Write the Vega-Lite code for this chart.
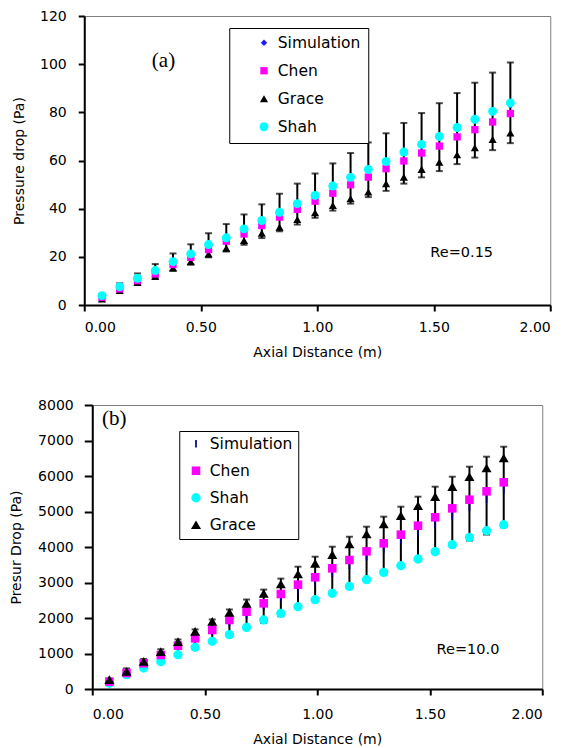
{
"$schema": "https://vega.github.io/schema/vega-lite/v6.json",
"padding": {"left": 9, "top": 8, "right": 5, "bottom": 5},
"spacing": 37,
"center": true,
"background": "white",
"config": {
  "view": {"stroke": "#808080", "strokeWidth": 1},
  "axis": {"domainColor": "black", "domainWidth": 2, "tickColor": "black", "tickWidth": 2, "grid": false, "labelOverlap": false,
    "labelFont": "DejaVu Sans", "labelFontSize": 14, "labelColor": "black",
    "titleFont": "DejaVu Sans", "titleFontSize": 14, "titleFontWeight": "normal", "titleColor": "black"},
  "text": {"color": "black"}
},
"datasets": {
"a_err": [
{"x":0.0762,"lo":3.0,"hi":4.6},{"x":0.1524,"lo":6.0,"hi":9.0},{"x":0.2286,"lo":8.7,"hi":13.1},{"x":0.3048,"lo":11.4,"hi":17.0},
{"x":0.381,"lo":14.2,"hi":21.4},{"x":0.4572,"lo":16.8,"hi":25.2},{"x":0.5334,"lo":19.8,"hi":29.8},{"x":0.6096,"lo":22.2,"hi":33.6},
{"x":0.6858,"lo":25.0,"hi":37.6},{"x":0.762,"lo":27.8,"hi":41.8},{"x":0.8382,"lo":30.6,"hi":46.2},{"x":0.9144,"lo":33.4,"hi":50.4},
{"x":0.9906,"lo":36.2,"hi":54.6},{"x":1.0668,"lo":39.2,"hi":58.8},{"x":1.143,"lo":42.1,"hi":63.1},{"x":1.2192,"lo":44.8,"hi":67.5},
{"x":1.2954,"lo":47.4,"hi":71.3},{"x":1.3716,"lo":50.4,"hi":75.6},{"x":1.4478,"lo":53.0,"hi":79.7},{"x":1.524,"lo":55.6,"hi":83.8},
{"x":1.6002,"lo":58.5,"hi":88.0},{"x":1.6764,"lo":61.2,"hi":92.3},{"x":1.7526,"lo":64.3,"hi":96.5},{"x":1.8288,"lo":67.2,"hi":100.7}
],
"a_pts": [
{"x":0.0762,"y":2.5,"s":"Grace"},{"x":0.1524,"y":6.0,"s":"Grace"},{"x":0.2286,"y":9.4,"s":"Grace"},{"x":0.3048,"y":11.9,"s":"Grace"},
{"x":0.381,"y":15.4,"s":"Grace"},{"x":0.4572,"y":18.0,"s":"Grace"},{"x":0.5334,"y":21.2,"s":"Grace"},{"x":0.6096,"y":23.6,"s":"Grace"},
{"x":0.6858,"y":26.8,"s":"Grace"},{"x":0.762,"y":29.8,"s":"Grace"},{"x":0.8382,"y":32.3,"s":"Grace"},{"x":0.9144,"y":35.5,"s":"Grace"},
{"x":0.9906,"y":38.3,"s":"Grace"},{"x":1.0668,"y":41.3,"s":"Grace"},{"x":1.143,"y":44.1,"s":"Grace"},{"x":1.2192,"y":46.9,"s":"Grace"},
{"x":1.2954,"y":50.4,"s":"Grace"},{"x":1.3716,"y":53.1,"s":"Grace"},{"x":1.4478,"y":56.3,"s":"Grace"},{"x":1.524,"y":59.3,"s":"Grace"},
{"x":1.6002,"y":62.4,"s":"Grace"},{"x":1.6764,"y":65.3,"s":"Grace"},{"x":1.7526,"y":68.7,"s":"Grace"},{"x":1.8288,"y":71.4,"s":"Grace"},
{"x":0.0762,"y":3.2,"s":"Chen"},{"x":0.1524,"y":6.7,"s":"Chen"},{"x":0.2286,"y":10.1,"s":"Chen"},{"x":0.3048,"y":12.9,"s":"Chen"},
{"x":0.381,"y":16.8,"s":"Chen"},{"x":0.4572,"y":19.8,"s":"Chen"},{"x":0.5334,"y":23.0,"s":"Chen"},{"x":0.6096,"y":26.5,"s":"Chen"},
{"x":0.6858,"y":29.5,"s":"Chen"},{"x":0.762,"y":33.0,"s":"Chen"},{"x":0.8382,"y":36.5,"s":"Chen"},{"x":0.9144,"y":39.7,"s":"Chen"},
{"x":0.9906,"y":43.1,"s":"Chen"},{"x":1.0668,"y":46.4,"s":"Chen"},{"x":1.143,"y":49.9,"s":"Chen"},{"x":1.2192,"y":53.1,"s":"Chen"},
{"x":1.2954,"y":56.6,"s":"Chen"},{"x":1.3716,"y":59.8,"s":"Chen"},{"x":1.4478,"y":63.1,"s":"Chen"},{"x":1.524,"y":66.0,"s":"Chen"},
{"x":1.6002,"y":69.8,"s":"Chen"},{"x":1.6764,"y":72.8,"s":"Chen"},{"x":1.7526,"y":76.0,"s":"Chen"},{"x":1.8288,"y":79.5,"s":"Chen"},
{"x":0.0762,"y":3.7,"s":"Simulation"},{"x":0.1524,"y":7.4,"s":"Simulation"},{"x":0.2286,"y":10.9,"s":"Simulation"},{"x":0.3048,"y":14.1,"s":"Simulation"},
{"x":0.381,"y":17.8,"s":"Simulation"},{"x":0.4572,"y":21.0,"s":"Simulation"},{"x":0.5334,"y":24.8,"s":"Simulation"},{"x":0.6096,"y":27.7,"s":"Simulation"},
{"x":0.6858,"y":31.3,"s":"Simulation"},{"x":0.762,"y":34.8,"s":"Simulation"},{"x":0.8382,"y":38.2,"s":"Simulation"},{"x":0.9144,"y":41.7,"s":"Simulation"},
{"x":0.9906,"y":45.2,"s":"Simulation"},{"x":1.0668,"y":49.0,"s":"Simulation"},{"x":1.143,"y":52.5,"s":"Simulation"},{"x":1.2192,"y":55.8,"s":"Simulation"},
{"x":1.2954,"y":59.1,"s":"Simulation"},{"x":1.3716,"y":63.0,"s":"Simulation"},{"x":1.4478,"y":66.1,"s":"Simulation"},{"x":1.524,"y":69.4,"s":"Simulation"},
{"x":1.6002,"y":73.0,"s":"Simulation"},{"x":1.6764,"y":76.4,"s":"Simulation"},{"x":1.7526,"y":79.7,"s":"Simulation"},{"x":1.8288,"y":82.9,"s":"Simulation"},
{"x":0.0762,"y":3.9,"s":"Shah"},{"x":0.1524,"y":7.6,"s":"Shah"},{"x":0.2286,"y":11.1,"s":"Shah"},{"x":0.3048,"y":14.3,"s":"Shah"},
{"x":0.381,"y":18.0,"s":"Shah"},{"x":0.4572,"y":21.2,"s":"Shah"},{"x":0.5334,"y":25.1,"s":"Shah"},{"x":0.6096,"y":27.9,"s":"Shah"},
{"x":0.6858,"y":31.6,"s":"Shah"},{"x":0.762,"y":35.1,"s":"Shah"},{"x":0.8382,"y":38.5,"s":"Shah"},{"x":0.9144,"y":42.1,"s":"Shah"},
{"x":0.9906,"y":45.5,"s":"Shah"},{"x":1.0668,"y":49.4,"s":"Shah"},{"x":1.143,"y":53.0,"s":"Shah"},{"x":1.2192,"y":56.3,"s":"Shah"},
{"x":1.2954,"y":59.6,"s":"Shah"},{"x":1.3716,"y":63.5,"s":"Shah"},{"x":1.4478,"y":66.7,"s":"Shah"},{"x":1.524,"y":70.0,"s":"Shah"},
{"x":1.6002,"y":73.7,"s":"Shah"},{"x":1.6764,"y":77.1,"s":"Shah"},{"x":1.7526,"y":80.4,"s":"Shah"},{"x":1.8288,"y":83.9,"s":"Shah"}
],
"b_err": [
{"x":0.0762,"lo":190,"hi":290},{"x":0.1524,"lo":385,"hi":580},{"x":0.2286,"lo":560,"hi":845},{"x":0.3048,"lo":745,"hi":1120},
{"x":0.381,"lo":930,"hi":1395},{"x":0.4572,"lo":1120,"hi":1680},{"x":0.5334,"lo":1300,"hi":1960},{"x":0.6096,"lo":1490,"hi":2240},
{"x":0.6858,"lo":1670,"hi":2520},{"x":0.762,"lo":1860,"hi":2800},{"x":0.8382,"lo":2050,"hi":3110},{"x":0.9144,"lo":2270,"hi":3445},
{"x":0.9906,"lo":2490,"hi":3727},{"x":1.0668,"lo":2676,"hi":4008},{"x":1.143,"lo":2836,"hi":4290},{"x":1.2192,"lo":3070,"hi":4572},
{"x":1.2954,"lo":3258,"hi":4854},{"x":1.3716,"lo":3493,"hi":5135},{"x":1.4478,"lo":3660,"hi":5417},{"x":1.524,"lo":3840,"hi":5699},
{"x":1.6002,"lo":4020,"hi":5980},{"x":1.6764,"lo":4180,"hi":6262},{"x":1.7526,"lo":4350,"hi":6544},{"x":1.8288,"lo":4554,"hi":6825}
],
"b_pts": [
{"x":0.0762,"y":240,"s":"Simulation"},{"x":0.1524,"y":480,"s":"Simulation"},{"x":0.2286,"y":700,"s":"Simulation"},{"x":0.3048,"y":930,"s":"Simulation"},
{"x":0.381,"y":1160,"s":"Simulation"},{"x":0.4572,"y":1400,"s":"Simulation"},{"x":0.5334,"y":1630,"s":"Simulation"},{"x":0.6096,"y":1860,"s":"Simulation"},
{"x":0.6858,"y":2090,"s":"Simulation"},{"x":0.762,"y":2330,"s":"Simulation"},{"x":0.8382,"y":2560,"s":"Simulation"},{"x":0.9144,"y":2790,"s":"Simulation"},
{"x":0.9906,"y":3020,"s":"Simulation"},{"x":1.0668,"y":3260,"s":"Simulation"},{"x":1.143,"y":3490,"s":"Simulation"},{"x":1.2192,"y":3720,"s":"Simulation"},
{"x":1.2954,"y":3950,"s":"Simulation"},{"x":1.3716,"y":4190,"s":"Simulation"},{"x":1.4478,"y":4420,"s":"Simulation"},{"x":1.524,"y":4650,"s":"Simulation"},
{"x":1.6002,"y":4880,"s":"Simulation"},{"x":1.6764,"y":5120,"s":"Simulation"},{"x":1.7526,"y":5350,"s":"Simulation"},{"x":1.8288,"y":5620,"s":"Simulation"},
{"x":0.0762,"y":160,"s":"Shah"},{"x":0.1524,"y":404,"s":"Shah"},{"x":0.2286,"y":592,"s":"Shah"},{"x":0.3048,"y":770,"s":"Shah"},
{"x":0.381,"y":967,"s":"Shah"},{"x":0.4572,"y":1174,"s":"Shah"},{"x":0.5334,"y":1343,"s":"Shah"},{"x":0.6096,"y":1531,"s":"Shah"},
{"x":0.6858,"y":1737,"s":"Shah"},{"x":0.762,"y":1944,"s":"Shah"},{"x":0.8382,"y":2131,"s":"Shah"},{"x":0.9144,"y":2319,"s":"Shah"},
{"x":0.9906,"y":2516,"s":"Shah"},{"x":1.0668,"y":2695,"s":"Shah"},{"x":1.143,"y":2892,"s":"Shah"},{"x":1.2192,"y":3080,"s":"Shah"},
{"x":1.2954,"y":3286,"s":"Shah"},{"x":1.3716,"y":3474,"s":"Shah"},{"x":1.4478,"y":3662,"s":"Shah"},{"x":1.524,"y":3869,"s":"Shah"},
{"x":1.6002,"y":4066,"s":"Shah"},{"x":1.6764,"y":4272,"s":"Shah"},{"x":1.7526,"y":4460,"s":"Shah"},{"x":1.8288,"y":4629,"s":"Shah"},
{"x":0.0762,"y":207,"s":"Chen"},{"x":0.1524,"y":451,"s":"Chen"},{"x":0.2286,"y":723,"s":"Chen"},{"x":0.3048,"y":958,"s":"Chen"},
{"x":0.381,"y":1221,"s":"Chen"},{"x":0.4572,"y":1427,"s":"Chen"},{"x":0.5334,"y":1662,"s":"Chen"},{"x":0.6096,"y":1944,"s":"Chen"},
{"x":0.6858,"y":2178,"s":"Chen"},{"x":0.762,"y":2413,"s":"Chen"},{"x":0.8382,"y":2676,"s":"Chen"},{"x":0.9144,"y":2939,"s":"Chen"},
{"x":0.9906,"y":3146,"s":"Chen"},{"x":1.0668,"y":3399,"s":"Chen"},{"x":1.143,"y":3634,"s":"Chen"},{"x":1.2192,"y":3878,"s":"Chen"},
{"x":1.2954,"y":4103,"s":"Chen"},{"x":1.3716,"y":4347,"s":"Chen"},{"x":1.4478,"y":4601,"s":"Chen"},{"x":1.524,"y":4836,"s":"Chen"},
{"x":1.6002,"y":5089,"s":"Chen"},{"x":1.6764,"y":5333,"s":"Chen"},{"x":1.7526,"y":5568,"s":"Chen"},{"x":1.8288,"y":5822,"s":"Chen"},
{"x":0.0762,"y":263,"s":"Grace"},{"x":0.1524,"y":498,"s":"Grace"},{"x":0.2286,"y":779,"s":"Grace"},{"x":0.3048,"y":1052,"s":"Grace"},
{"x":0.381,"y":1333,"s":"Grace"},{"x":0.4572,"y":1624,"s":"Grace"},{"x":0.5334,"y":1906,"s":"Grace"},{"x":0.6096,"y":2160,"s":"Grace"},
{"x":0.6858,"y":2413,"s":"Grace"},{"x":0.762,"y":2695,"s":"Grace"},{"x":0.8382,"y":2958,"s":"Grace"},{"x":0.9144,"y":3239,"s":"Grace"},
{"x":0.9906,"y":3540,"s":"Grace"},{"x":1.0668,"y":3784,"s":"Grace"},{"x":1.143,"y":4085,"s":"Grace"},{"x":1.2192,"y":4366,"s":"Grace"},
{"x":1.2954,"y":4648,"s":"Grace"},{"x":1.3716,"y":4883,"s":"Grace"},{"x":1.4478,"y":5164,"s":"Grace"},{"x":1.524,"y":5418,"s":"Grace"},
{"x":1.6002,"y":5700,"s":"Grace"},{"x":1.6764,"y":5981,"s":"Grace"},{"x":1.7526,"y":6225,"s":"Grace"},{"x":1.8288,"y":6507,"s":"Grace"}
]
},
"vconcat": [
{
  "width": 466, "height": 289,
  "layer": [
    {"data": {"name": "a_err"},
     "mark": {"type": "errorbar", "color": "black", "ticks": {"size": 7, "thickness": 2, "color": "black"}, "rule": {"strokeWidth": 2, "color": "black"}},
     "encoding": {
       "x": {"field": "x", "type": "quantitative", "scale": {"domain": [0, 2], "nice": false},
             "axis": {"title": "Axial Distance (m)", "values": [0, 0.5, 1, 1.5, 2], "format": ".2f", "tickSize": 6, "labelPadding": 9, "titlePadding": 11, "labelOverlap": false}},
       "y": {"field": "lo", "type": "quantitative", "scale": {"domain": [0, 120], "nice": false},
             "axis": {"title": "Pressure drop (Pa)", "values": [0, 20, 40, 60, 80, 100, 120], "tickSize": 6, "labelPadding": 12, "titlePadding": 13, "labelOverlap": false}},
       "y2": {"field": "hi"}
     }},
    {"data": {"name": "a_pts"},
     "mark": {"type": "point", "filled": true, "opacity": 1, "strokeWidth": 0},
     "encoding": {
       "x": {"field": "x", "type": "quantitative"},
       "y": {"field": "y", "type": "quantitative"},
       "color": {"field": "s", "type": "nominal",
         "scale": {"domain": ["Simulation", "Chen", "Grace", "Shah"], "range": ["#1a1aff", "#ff00ff", "#000000", "#00ffff"]},
         "legend": {"title": null, "orient": "none", "legendX": 145, "legendY": 12, "strokeColor": "black", "fillColor": "white", "padding": 7, "symbolOffset": 20, "rowPadding": 11, "symbolSize": 60, "labelFont": "DejaVu Sans", "labelFontSize": 15.5, "labelColor": "black", "labelOffset": 6, "labelExpr": "datum.label + '\u2003\u2003'", "symbolStrokeWidth": 0, "encode": {"legend": {"update": {"strokeWidth": {"value": 2}}}}}},
       "shape": {"field": "s", "type": "nominal",
         "scale": {"domain": ["Simulation", "Chen", "Grace", "Shah"], "range": ["diamond", "square", "triangle-up", "circle"]},
         "legend": {"title": null, "orient": "none", "legendX": 145, "legendY": 12, "strokeColor": "black", "fillColor": "white", "padding": 7, "symbolOffset": 20, "rowPadding": 11, "symbolSize": 60, "labelFont": "DejaVu Sans", "labelFontSize": 15.5, "labelColor": "black", "labelOffset": 6, "labelExpr": "datum.label + '\u2003\u2003'", "symbolStrokeWidth": 0, "encode": {"legend": {"update": {"strokeWidth": {"value": 2}}}}}},
       "size": {"field": "s", "type": "nominal", "legend": null,
         "scale": {"domain": ["Simulation", "Chen", "Grace", "Shah"], "range": [40, 80, 70, 64]}}
     }},
    {"data": {"values": [{"x": 1.62, "y": 21.6, "t": "Re=0.15"}]},
     "mark": {"type": "text", "font": "DejaVu Sans", "fontSize": 14.5, "align": "center", "baseline": "middle"},
     "encoding": {"x": {"field": "x", "type": "quantitative"}, "y": {"field": "y", "type": "quantitative"}, "text": {"field": "t"}}},
    {"data": {"values": [{"x": 0.34, "y": 101.5, "t": "(a)"}]},
     "mark": {"type": "text", "font": "Liberation Serif", "fontSize": 21, "align": "center", "baseline": "middle"},
     "encoding": {"x": {"field": "x", "type": "quantitative"}, "y": {"field": "y", "type": "quantitative"}, "text": {"field": "t"}}}
  ]
},
{
  "width": 450, "height": 284,
  "layer": [
    {"data": {"name": "b_err"},
     "mark": {"type": "errorbar", "color": "black", "ticks": {"size": 7, "thickness": 2, "color": "black"}, "rule": {"strokeWidth": 2, "color": "black"}},
     "encoding": {
       "x": {"field": "x", "type": "quantitative", "scale": {"domain": [0, 2], "nice": false},
             "axis": {"title": "Axial Distance (m)", "values": [0, 0.5, 1, 1.5, 2], "format": ".2f", "tickSize": 6, "labelPadding": 12, "titlePadding": 11, "labelOverlap": false}},
       "y": {"field": "lo", "type": "quantitative", "scale": {"domain": [0, 8000], "nice": false},
             "axis": {"title": "Presur Drop (Pa)", "values": [0, 1000, 2000, 3000, 4000, 5000, 6000, 7000, 8000], "tickCount": 9, "format": "d", "tickSize": 8, "labelPadding": 11, "titlePadding": 14, "labelOverlap": false, "labelSeparation": 0}},
       "y2": {"field": "hi"}
     }},
    {"data": {"name": "b_pts"},
     "mark": {"type": "point", "filled": true, "opacity": 1, "strokeWidth": 0},
     "encoding": {
       "x": {"field": "x", "type": "quantitative"},
       "y": {"field": "y", "type": "quantitative",
             "axis": {"title": "Presur Drop (Pa)", "values": [0, 1000, 2000, 3000, 4000, 5000, 6000, 7000, 8000], "tickCount": 9, "format": "d", "tickSize": 8, "labelPadding": 11, "titlePadding": 14, "labelOverlap": false, "labelSeparation": 0}},
       "color": {"field": "s", "type": "nominal",
         "scale": {"domain": ["Simulation", "Chen", "Shah", "Grace"], "range": ["#000080", "#ff00ff", "#00ffff", "#000000"]},
         "legend": {"title": null, "orient": "none", "legendX": 87, "legendY": 26, "strokeColor": "black", "fillColor": "white", "padding": 5, "symbolOffset": 4, "rowPadding": 10, "symbolSize": 60, "labelFont": "DejaVu Sans", "labelFontSize": 15.5, "labelColor": "black", "labelOffset": 6, "symbolStrokeWidth": 0, "encode": {"legend": {"update": {"strokeWidth": {"value": 2}}}}}},
       "shape": {"field": "s", "type": "nominal",
         "scale": {"domain": ["Simulation", "Chen", "Shah", "Grace"], "range": ["M-0.22,-1L0.22,-1L0.22,1L-0.22,1Z", "square", "circle", "triangle-up"]},
         "legend": {"title": null, "orient": "none", "legendX": 87, "legendY": 26, "strokeColor": "black", "fillColor": "white", "padding": 5, "symbolOffset": 4, "rowPadding": 10, "symbolSize": 60, "labelFont": "DejaVu Sans", "labelFontSize": 15.5, "labelColor": "black", "labelOffset": 6, "symbolStrokeWidth": 0, "encode": {"legend": {"update": {"strokeWidth": {"value": 2}}}}}},
       "size": {"field": "s", "type": "nominal", "legend": null,
         "scale": {"domain": ["Simulation", "Chen", "Shah", "Grace"], "range": [60, 100, 50, 80]}}
     }},
    {"data": {"values": [{"x": 1.67, "y": 1100, "t": "Re=10.0"}]},
     "mark": {"type": "text", "font": "DejaVu Sans", "fontSize": 14.5, "align": "center", "baseline": "middle"},
     "encoding": {"x": {"field": "x", "type": "quantitative"}, "y": {"field": "y", "type": "quantitative"}, "text": {"field": "t"}}},
    {"data": {"values": [{"x": 0.098, "y": 7600, "t": "(b)"}]},
     "mark": {"type": "text", "font": "Liberation Serif", "fontSize": 21, "align": "center", "baseline": "middle"},
     "encoding": {"x": {"field": "x", "type": "quantitative"}, "y": {"field": "y", "type": "quantitative"}, "text": {"field": "t"}}}
  ]
}
],
"resolve": {"scale": {"x": "independent", "y": "independent", "color": "independent", "shape": "independent", "size": "independent"}}
}
